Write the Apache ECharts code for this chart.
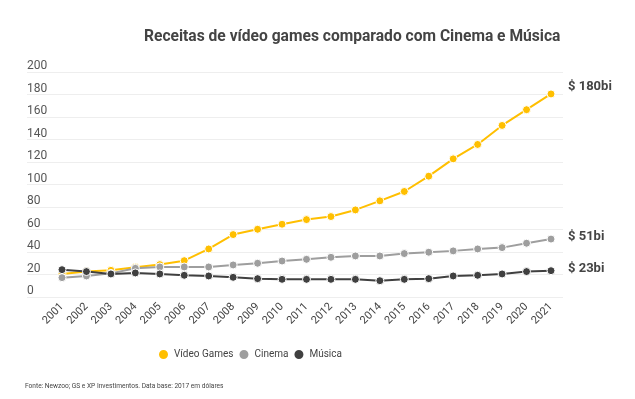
<!DOCTYPE html>
<html>
<head>
<meta charset="utf-8">
<script src="https://cdn.jsdelivr.net/npm/echarts@6/dist/echarts.min.js"></script>
<style>
  html, body { margin: 0; padding: 0; background: #fff; }
  #chart { width: 635px; height: 399px; }
</style>
</head>
<body>
<div id="chart"></div>
<script>
const years = ['2001', '2002', '2003', '2004', '2005', '2006', '2007', '2008', '2009', '2010', '2011',
  '2012', '2013', '2014', '2015', '2016', '2017', '2018', '2019', '2020', '2021']
const videoGames = [20.5, 22.6, 23.7, 26.4, 28.8, 32.3, 42.7, 55.5, 60.2, 64.7, 68.8,
  71.5, 77.4, 85.5, 93.8, 107.4, 122.8, 135.6, 152.5, 166.5, 180.5]
const cinema = [17.2, 18.7, 21, 25.5, 26.7, 26.7, 26.7, 28.5, 30, 32, 33.5,
  35.3, 36.5, 36.5, 38.6, 39.8, 41, 42.7, 43.9, 47.8, 51.5]
const musica = [24.3, 22.6, 20.5, 21.4, 20.5, 19.3, 18.7, 17.5, 16.3, 15.7, 15.7,
  15.7, 15.7, 14.5, 15.7, 16.3, 18.7, 19.3, 20.5, 22.6, 23.4]
const seriesNames = ['Vídeo Games', 'Cinema', 'Música']
const endLabels = ['$ 180bi', '$ 51bi', '$ 23bi']
const colors = ['#FFBF00', '#9E9E9E', '#404040']

const chart = echarts.init(document.getElementById('chart'))

// linha de série
function makeSeries(name, data, i) {
  return {
    name,
    type: 'line',
    xAxisIndex: 1,
    yAxisIndex: 1,
    data,
    symbol: 'circle',
    symbolSize: 8,
    lineStyle: { width: 2, color: colors[i] },
    itemStyle: { color: colors[i], borderColor: '#fff', borderWidth: 1 },
    z: 2 + i,
    endLabel: {
      show: true,
      formatter: () => endLabels[i],
      distance: 17,
      offset: i === 0 ? [0, -7] : [0, -2],
      fontFamily: 'Roboto',
      fontSize: 13,
      fontWeight: 'bold',
      color: '#444',
    },
  }
}

chart.setOption({
  animation: false,
  textStyle: { fontFamily: 'Roboto' },
  title: [
    {
      text: 'Receitas de vídeo games comparado com Cinema e Música',
      left: 139,
      top: 24,
      textStyle: { fontSize: 15.6, fontWeight: 'bold', color: '#444', fontFamily: 'Roboto' },
    },
    {
      text: 'Fonte: Newzoo; GS e XP Investimentos. Data base: 2017 em dólares',
      left: 20,
      top: 378,
      textStyle: { fontSize: 6.6, fontWeight: 'normal', color: '#444', fontFamily: 'Roboto' },
    },
  ],
  legend: {
    data: seriesNames,
    top: 343,
    left: 152,
    icon: 'circle',
    itemWidth: 11,
    itemHeight: 11,
    itemGap: 4,
    textStyle: { fontSize: 10, color: '#444', fontFamily: 'Roboto' },
  },
  grid: [
    { left: 27, right: 72, top: 72, bottom: 102 },
    { left: 62, right: 84, top: 72, bottom: 102 },
  ],
  xAxis: [
    { gridIndex: 0, type: 'category', data: years, show: false },
    {
      gridIndex: 1,
      type: 'category',
      data: years,
      boundaryGap: false,
      axisLine: { show: false },
      axisTick: { show: false },
      axisLabel: { rotate: 45, fontSize: 11, color: '#444', margin: 8, interval: 0 },
    },
  ],
  yAxis: [
    {
      gridIndex: 0,
      type: 'value',
      min: 0,
      max: 200,
      interval: 20,
      axisLine: { show: false },
      axisTick: { show: false },
      splitLine: { lineStyle: { color: '#eeeeee', width: 1 } },
      axisLabel: {
        inside: true,
        align: 'left',
        verticalAlign: 'bottom',
        margin: 0,
        padding: 0,
        fontSize: 12,
        color: '#555',
      },
    },
    { gridIndex: 1, type: 'value', min: 0, max: 200, show: false },
  ],
  series: [
    makeSeries(seriesNames[0], videoGames, 0),
    makeSeries(seriesNames[1], cinema, 1),
    makeSeries(seriesNames[2], musica, 2),
  ],
})
</script>
</body>
</html>
